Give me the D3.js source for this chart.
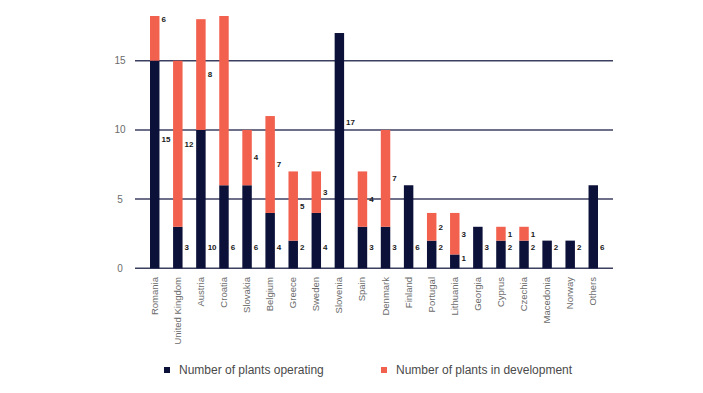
<!DOCTYPE html>
<html>
<head>
<meta charset="utf-8">
<script src="https://cdn.jsdelivr.net/npm/d3@7"></script>
<style>
  body { margin: 0; background: #fff; }
  svg { display: block; }
</style>
</head>
<body>
<svg id="chart"></svg>
<script>
// data
const countries = ["Romania", "United Kingdom", "Austria", "Croatia", "Slovakia", "Belgium", "Greece",
  "Sweden", "Slovenia", "Spain", "Denmark", "Finland", "Portugal", "Lithuania", "Georgia", "Cyprus",
  "Czechia", "Macedonia", "Norway", "Others"];
const operating = [15, 3, 10, 6, 6, 4, 2, 4, 17, 3, 3, 6, 2, 1, 3, 2, 2, 2, 2, 6];
const development = [6, 12, 8, 26, 4, 7, 5, 3, 0, 4, 7, 0, 2, 3, 0, 1, 1, 0, 0, 0];
const yTicks = [0, 5, 10, 15];
const seriesNames = ["Number of plants operating", "Number of plants in development"];

const width = 703, height = 393;
const navy = "#0b1138", coral = "#f2604e";

const svg = d3.select("#chart").attr("width", width).attr("height", height);

const x = d3.scaleBand()
    .domain(countries)
    .range([135, 613])
    .paddingInner(0.59)
    .paddingOuter(0.65);

const y = d3.scaleLinear()
    .domain([0, 15])
    .range([268.3, 60.7]);

// grid lines
svg.append("g")
  .selectAll("line")
  .data(yTicks)
  .join("line")
    .attr("x1", 135)
    .attr("x2", 613)
    .attr("y1", d => y(d))
    .attr("y2", d => y(d))
    .attr("stroke", "#3c4060")
    .attr("stroke-width", 1.5);

// y labels
svg.append("g")
  .selectAll("text")
  .data(yTicks)
  .join("text")
    .attr("x", 120)
    .attr("y", d => y(d))
    .attr("dy", "0.35em")
    .attr("text-anchor", "middle")
    .attr("font-family", "Liberation Sans, Arial, sans-serif")
    .attr("font-size", 10)
    .attr("fill", "#6b6b6b")
    .text(d => d);

// clip the top like the original
svg.append("clipPath").attr("id", "plot")
  .append("rect").attr("x", 0).attr("y", 16).attr("width", width).attr("height", height);

const plot = svg.append("g").attr("clip-path", "url(#plot)");

const rows = countries.map((c, i) => ({ c, o: operating[i], d: development[i] }));

// bars
plot.selectAll(".op")
  .data(rows)
  .join("rect")
    .attr("class", "op")
    .attr("x", r => x(r.c))
    .attr("width", x.bandwidth())
    .attr("y", r => y(r.o))
    .attr("height", r => y(0) - y(r.o))
    .attr("fill", navy);

plot.selectAll(".dev")
  .data(rows.filter(r => r.d > 0))
  .join("rect")
    .attr("class", "dev")
    .attr("x", r => x(r.c))
    .attr("width", x.bandwidth())
    .attr("y", r => y(r.o + r.d))
    .attr("height", r => y(r.o) - y(r.o + r.d))
    .attr("fill", coral);

// value labels
function opPos(o) { return o >= 15 ? o * 0.62 : Math.min(1.5, o * 0.75); }

const labels = [];
rows.forEach(r => {
  labels.push({ c: r.c, v: r.o, at: opPos(r.o) });
  if (r.d > 0) labels.push({ c: r.c, v: r.d, at: r.o + r.d / 2 });
});

plot.selectAll(".lbl")
  .data(labels)
  .join("text")
    .attr("class", "lbl")
    .attr("x", l => x(l.c) + x.bandwidth() + 2)
    .attr("y", l => y(l.at))
    .attr("dy", "0.35em")
    .attr("font-family", "Liberation Sans, Arial, sans-serif")
    .attr("font-weight", "bold")
    .attr("font-size", 8)
    .attr("fill", "#1a1a1a")
    .text(l => l.v);

// x labels
svg.append("g")
  .selectAll("text")
  .data(countries)
  .join("text")
    .attr("transform", c => `translate(${x(c) + x.bandwidth() / 2 + 3},277) rotate(-90)`)
    .attr("text-anchor", "end")
    .attr("font-family", "Liberation Sans, Arial, sans-serif")
    .attr("font-size", 9.5)
    .attr("fill", "#6b6b6b")
    .text(c => c);

// legend
const legend = svg.append("g")
  .selectAll("g")
  .data(seriesNames)
  .join("g")
    .attr("transform", (d, i) => `translate(${i === 0 ? 164 : 381},367)`);

legend.append("rect")
    .attr("width", 6)
    .attr("height", 6)
    .attr("fill", (d, i) => i === 0 ? navy : coral);

legend.append("text")
    .attr("x", 15)
    .attr("y", 3)
    .attr("dy", "0.35em")
    .attr("font-family", "Liberation Sans, Arial, sans-serif")
    .attr("font-size", 12)
    .attr("fill", "#4a4a4a")
    .text(d => d);
</script>
</body>
</html>
